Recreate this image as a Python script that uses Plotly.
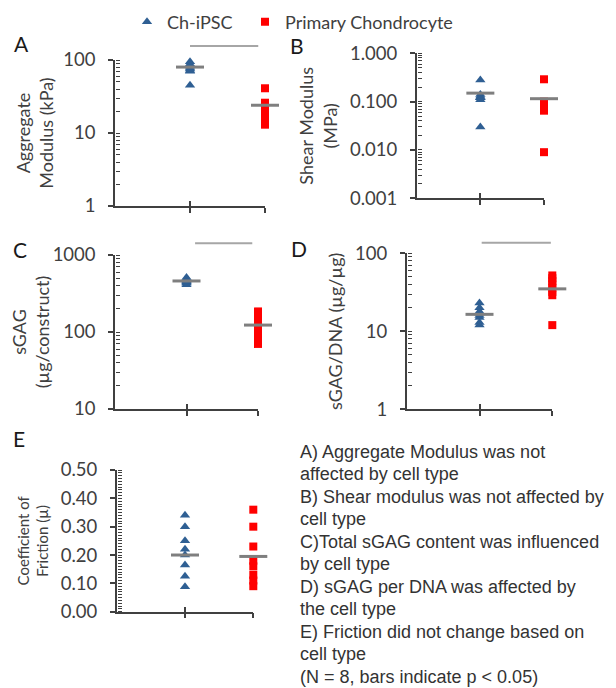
import math
import plotly.graph_objects as go

# The page body has an 8px default margin, so the figure is drawn 8px in from the window corner.
OFF = 8
WIN_W, WIN_H = 616, 688
W, H = WIN_W - OFF, WIN_H - OFF

groups = ["Ch-iPSC", "Primary Chondrocyte"]
group_x = [1, 2]

# Panel values (N = 8 per group)
A_ips = [95, 88, 82, 78, 75, 72, 70, 45]
A_pc = [41, 26, 23, 20, 18, 16, 15, 13]
A_means = [80, 24]

B_ips = [0.28, 0.14, 0.13, 0.12, 0.12, 0.12, 0.11, 0.03]
B_pc = [0.29, 0.10, 0.09, 0.08, 0.075, 0.07, 0.065, 0.009]
B_means = [0.15, 0.115]

C_ips = [510, 490, 470, 460, 450, 440, 430, 410]
C_pc = [185, 165, 145, 125, 110, 95, 82, 70]
C_means = [460, 123]

D_ips = [23, 20, 18, 17, 16, 15, 13, 12]
D_pc = [52, 48, 44, 40, 36, 32, 29, 12]
D_means = [16.5, 35]

E_ips = [0.34, 0.30, 0.25, 0.22, 0.20, 0.165, 0.125, 0.088]
E_pc = [0.36, 0.30, 0.23, 0.18, 0.16, 0.13, 0.11, 0.09]
E_means = [0.20, 0.195]

panel_letters = ["A", "B", "C", "D", "E"]
y_titles = ["Aggregate<br>Modulus (kPa)", "Shear Modulus<br>(MPa)",
            "sGAG<br>(µg/construct)", "sGAG/DNA (µg/µg)",
            "Coefficient of<br>Friction (µ)"]
A_ticks = [1, 10, 100]
A_ticktext = ["1", "10", "100"]
B_ticks = [0.001, 0.01, 0.1, 1]
B_ticktext = ["0.001", "0.010", "0.100", "1.000"]
C_ticks = [10, 100, 1000]
C_ticktext = ["10", "100", "1000"]
D_ticks = [1, 10, 100]
D_ticktext = ["1", "10", "100"]
E_ticks = [0.0, 0.1, 0.2, 0.3, 0.4, 0.5]
E_ticktext = ["0.00", "0.10", "0.20", "0.30", "0.40", "0.50"]

note_lines = [
    "A) Aggregate Modulus was not",
    "affected by cell type",
    "B) Shear modulus was not affected by",
    "cell type",
    "C)Total sGAG content was influenced",
    "by cell type",
    "D) sGAG per DNA was affected by",
    "the cell type",
    "E) Friction did not change based on",
    "cell type",
    "(N = 8, bars indicate p < 0.05)",
]

BLUE = "#2f5f93"
RED = "#ff0000"
AX = "#404040"
MEAN = "#7f7f7f"
SIG = "#a6a6a6"
FONT = "Lato"

def fx(px):
    return (px - OFF) / W

def fy(py):
    return 1 - (py - OFF) / H

# window-pixel geometry: (x_axis_left, x_cat2, y_top, y_bottom)
geo = [
    (115, 265, 60, 206),
    (416.7, 544, 53.3, 198.3),
    (115, 258, 255, 409),
    (406.7, 552.3, 253.3, 409.3),
    (116.7, 253.3, 470, 611.7),
]
ranges = [[0, 2], [-3, 0], [1, 3], [0, 2], [0, 0.5]]
types = ["log", "log", "log", "log", "linear"]
tickvals = [A_ticks, B_ticks, C_ticks, D_ticks, E_ticks]
ticktexts = [A_ticktext, B_ticktext, C_ticktext, D_ticktext, E_ticktext]
title_sizes = [18, 18, 18, 18, 15]
title_standoff = [5, 8, 7, 8, 8]

data = [(A_ips, A_pc, A_means), (B_ips, B_pc, B_means), (C_ips, C_pc, C_means),
        (D_ips, D_pc, D_means), (E_ips, E_pc, E_means)]


def inner_ticks(i):
    """Major + minor tick positions, in axis units (log10 for log panels)."""
    if types[i] == "log":
        lo, hi = int(ranges[i][0]), int(ranges[i][1])
        vals = []
        for e in range(lo, hi):
            for m in range(1, 10):
                vals.append(round(e + math.log10(m), 4))
        vals.append(hi)
        return vals
    steps = int(round((ranges[i][1] - ranges[i][0]) / 0.01))
    return [round(ranges[i][0] + 0.01 * s, 2) for s in range(steps + 1)]


fig = go.Figure()

for i, (ips, pc, means) in enumerate(data):
    n = i + 1
    xa = "x" if n == 1 else f"x{n}"
    ya = "y" if n == 1 else f"y{n}"
    fig.add_trace(go.Scatter(
        x=[group_x[0]] * len(ips), y=ips, mode="markers", xaxis=xa, yaxis=ya,
        name=groups[0], legendgroup=groups[0], showlegend=(i == 0), cliponaxis=False,
        legend="legend",
        marker=dict(symbol="triangle-up", size=9, color=BLUE)))
    fig.add_trace(go.Scatter(
        x=[group_x[1]] * len(pc), y=pc, mode="markers", xaxis=xa, yaxis=ya,
        name=groups[1], legendgroup=groups[1], showlegend=(i == 0), cliponaxis=False,
        legend="legend2",
        marker=dict(symbol="square", size=8, color=RED)))
    # group means
    fig.add_trace(go.Scatter(
        x=group_x, y=means, mode="markers", xaxis=xa, yaxis=ya,
        showlegend=False, cliponaxis=False,
        marker=dict(symbol="line-ew", size=20, line=dict(width=3, color=MEAN))))
    # empty traces that register the tick-only overlay / helper axes
    fig.add_trace(go.Scatter(x=[], y=[], mode="markers", xaxis=f"x{n + 5}",
                             yaxis=ya, showlegend=False, hoverinfo="skip"))
    fig.add_trace(go.Scatter(x=[], y=[], mode="markers", xaxis=f"x{n + 10}",
                             yaxis=f"y{n + 10}", showlegend=False, hoverinfo="skip"))

leg_common = dict(orientation="h", xanchor="left", yanchor="middle",
                  font=dict(family=FONT, size=18, color=AX), itemwidth=30,
                  bgcolor="rgba(0,0,0,0)")
layout = dict(
    width=W, height=H, margin=dict(l=0, r=0, t=0, b=0, autoexpand=False),
    paper_bgcolor="white", plot_bgcolor="rgba(0,0,0,0)",
    font=dict(family=FONT, color=AX, size=17),
    showlegend=True,
    legend=dict(x=fx(127), y=fy(22), **leg_common),
    legend2=dict(x=fx(245), y=fy(22), **leg_common),
)

for i in range(5):
    n = i + 1
    xl, x2, yt, yb = geo[i]
    sfx = "" if n == 1 else str(n)
    xdom = [fx(xl), fx(x2)]
    yd = [fy(yb), fy(yt)]
    layout["xaxis" + sfx] = dict(
        domain=xdom, range=[0, 2], anchor="y" + sfx, showgrid=False, zeroline=False,
        showline=True, linecolor=AX, linewidth=1.5, tickmode="array", tickvals=group_x,
        showticklabels=False, ticks="outside", ticklen=5, tickwidth=1.5, tickcolor=AX)
    layout["yaxis" + sfx] = dict(
        domain=yd, range=ranges[i], type=types[i], anchor="x" + sfx, showgrid=False,
        zeroline=False, showline=True, linecolor=AX, linewidth=1.5,
        tickmode="array", tickvals=tickvals[i], ticktext=ticktexts[i],
        ticks="outside", ticklen=5, tickwidth=1.5, tickcolor=AX, ticklabelstandoff=9,
        tickfont=dict(family=FONT, size=18.5, color=AX),
        title=dict(text=y_titles[i], font=dict(family=FONT, size=title_sizes[i], color=AX),
                   standoff=title_standoff[i]))
    # overlay x axis: upper half of the crossing category ticks
    layout[f"xaxis{n + 5}"] = dict(
        range=[0, 2], overlaying="x" + sfx, anchor="y" + sfx,
        showgrid=False, zeroline=False, showline=False, tickmode="array",
        tickvals=group_x, showticklabels=False, ticks="inside", ticklen=5,
        tickwidth=1.5, tickcolor=AX)
    # helper subplot just left of the panel's y axis; its right-side y axis
    # sits on the panel's axis line and draws the right-hand ticks
    k = n + 10
    layout[f"xaxis{k}"] = dict(domain=[fx(xl) - 0.02, fx(xl)], range=[0, 1],
                               anchor=f"y{k}", visible=False)
    layout[f"yaxis{k}"] = dict(
        domain=yd, range=ranges[i], type="linear", anchor=f"x{k}", side="right",
        showgrid=False, zeroline=False, showline=False,
        tickmode="array", tickvals=inner_ticks(i), showticklabels=False,
        ticks="outside", ticklen=4, tickwidth=1.2, tickcolor=AX)

fig.update_layout(**layout)

# significance bars (panels A, C, D)
sig = [("x", "y domain", 1.0, 1.91, 1.096),
       ("x3", "y3 domain", 1.12, 1.92, 1.076),
       ("x4", "y4 domain", 1.03, 1.98, 1.068)]
for xr, yr, x0, x1, yy in sig:
    fig.add_shape(type="line", xref=xr, yref=yr, x0=x0, x1=x1, y0=yy, y1=yy,
                  line=dict(color=SIG, width=2))

# panel letters
letter_pos = [(12, 43), (288, 45), (11, 249), (289, 248), (11, 438)]
for L, (lx, ly) in zip(panel_letters, letter_pos):
    fig.add_annotation(text=L, xref="paper", yref="paper", x=fx(lx), y=fy(ly),
                       xanchor="left", yanchor="middle", showarrow=False,
                       font=dict(family=FONT, size=21, color="#1a1a1a"))

line_y0, line_step = 452, 22.45
for k, line in enumerate(note_lines):
    fig.add_annotation(text=line, xref="paper", yref="paper",
                       x=fx(298), y=fy(line_y0 + k * line_step),
                       xanchor="left", yanchor="middle", align="left", showarrow=False,
                       font=dict(family="Liberation Sans", size=18, color="#333333"))

fig.write_html("out.html")
